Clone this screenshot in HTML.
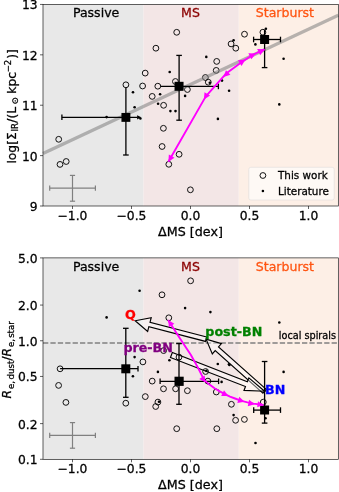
<!DOCTYPE html>
<html><head><meta charset="utf-8"><title>figure</title>
<style>html,body{margin:0;padding:0;background:#fff;width:339px;height:492px;overflow:hidden}svg{display:block;filter:blur(0.35px)}</style>
</head><body>
<svg width="339" height="492" viewBox="0 0 339 492" font-family="'DejaVu Sans', 'Liberation Sans', sans-serif">
<rect width="339" height="492" fill="#fff"/>
<rect x="43.0" y="4.45" width="100.50" height="201.55" fill="#e8e8e8"/>
<rect x="143.50" y="4.45" width="95.30" height="201.55" fill="#f3e6e6"/>
<rect x="238.80" y="4.45" width="99.50" height="201.55" fill="#fdefe6"/>
<text stroke="#000" stroke-width="0.28" x="96.1" y="16.5" font-size="12.55" text-anchor="middle" fill="#000">Passive</text>
<text stroke="#8b0000" stroke-width="0.28" x="190.5" y="16.5" font-size="12.55" text-anchor="middle" fill="#8b0000">MS</text>
<text stroke="#ff5512" stroke-width="0.28" x="284.9" y="16.5" font-size="12.55" text-anchor="middle" fill="#ff5512">Starburst</text>
<circle cx="58.7" cy="139.3" r="2.9" fill="none" stroke="#111" stroke-width="1.0"/>
<circle cx="60.0" cy="164.4" r="2.9" fill="none" stroke="#111" stroke-width="1.0"/>
<circle cx="66.2" cy="161.5" r="2.9" fill="none" stroke="#111" stroke-width="1.0"/>
<circle cx="125.9" cy="84.8" r="2.9" fill="none" stroke="#111" stroke-width="1.0"/>
<circle cx="142.6" cy="86.0" r="2.9" fill="none" stroke="#111" stroke-width="1.0"/>
<circle cx="145.2" cy="73.1" r="2.9" fill="none" stroke="#111" stroke-width="1.0"/>
<circle cx="155.9" cy="48.2" r="2.9" fill="none" stroke="#111" stroke-width="1.0"/>
<circle cx="176.7" cy="32.3" r="2.9" fill="none" stroke="#111" stroke-width="1.0"/>
<circle cx="157.8" cy="86.2" r="2.9" fill="none" stroke="#111" stroke-width="1.0"/>
<circle cx="152.2" cy="96.4" r="2.9" fill="none" stroke="#111" stroke-width="1.0"/>
<circle cx="163.6" cy="105.3" r="2.9" fill="none" stroke="#111" stroke-width="1.0"/>
<circle cx="175.4" cy="81.5" r="2.9" fill="none" stroke="#111" stroke-width="1.0"/>
<circle cx="187.4" cy="89.5" r="2.9" fill="none" stroke="#111" stroke-width="1.0"/>
<circle cx="163.4" cy="128.3" r="2.9" fill="none" stroke="#111" stroke-width="1.0"/>
<circle cx="162.1" cy="146.5" r="2.9" fill="none" stroke="#111" stroke-width="1.0"/>
<circle cx="179.1" cy="154.3" r="2.9" fill="none" stroke="#111" stroke-width="1.0"/>
<circle cx="168.8" cy="164.3" r="2.9" fill="none" stroke="#111" stroke-width="1.0"/>
<circle cx="190.4" cy="189.8" r="2.9" fill="none" stroke="#111" stroke-width="1.0"/>
<circle cx="216.7" cy="61.4" r="2.9" fill="none" stroke="#111" stroke-width="1.0"/>
<circle cx="216.2" cy="70.4" r="2.9" fill="none" stroke="#111" stroke-width="1.0"/>
<circle cx="205.4" cy="77.5" r="2.9" fill="none" stroke="#111" stroke-width="1.0"/>
<circle cx="208.3" cy="82.2" r="2.9" fill="none" stroke="#111" stroke-width="1.0"/>
<circle cx="231.1" cy="43.9" r="2.9" fill="none" stroke="#111" stroke-width="1.0"/>
<circle cx="235.8" cy="48.2" r="2.9" fill="none" stroke="#111" stroke-width="1.0"/>
<circle cx="244.5" cy="34.2" r="2.9" fill="none" stroke="#111" stroke-width="1.0"/>
<circle cx="262.9" cy="32.2" r="2.9" fill="none" stroke="#111" stroke-width="1.0"/>
<circle cx="106.6" cy="117.1" r="1.3" fill="#000"/>
<circle cx="133.0" cy="92.3" r="1.3" fill="#000"/>
<circle cx="134.6" cy="107.3" r="1.3" fill="#000"/>
<circle cx="140.4" cy="118.5" r="1.3" fill="#000"/>
<circle cx="160.1" cy="94.3" r="1.3" fill="#000"/>
<circle cx="158.1" cy="103.7" r="1.3" fill="#000"/>
<circle cx="169.7" cy="72.0" r="1.3" fill="#000"/>
<circle cx="170.4" cy="111.1" r="1.3" fill="#000"/>
<circle cx="175.5" cy="111.1" r="1.3" fill="#000"/>
<circle cx="185.1" cy="95.9" r="1.3" fill="#000"/>
<circle cx="206.3" cy="56.9" r="1.3" fill="#000"/>
<circle cx="209.8" cy="82.8" r="1.3" fill="#000"/>
<circle cx="222.0" cy="80.6" r="1.3" fill="#000"/>
<circle cx="229.1" cy="90.8" r="1.3" fill="#000"/>
<circle cx="217.9" cy="118.9" r="1.3" fill="#000"/>
<circle cx="233.6" cy="40.2" r="1.3" fill="#000"/>
<circle cx="255.4" cy="44.4" r="1.3" fill="#000"/>
<circle cx="265.9" cy="28.7" r="1.3" fill="#000"/>
<circle cx="283.6" cy="58.7" r="1.3" fill="#000"/>
<circle cx="279.3" cy="104.4" r="1.3" fill="#000"/>
<line x1="43.0" y1="153.6" x2="338.3" y2="15.2" stroke="#808080" stroke-opacity="0.56" stroke-width="3.3"/>
<line x1="61.9" y1="117.3" x2="137.5" y2="117.3" stroke="#000" stroke-width="1.3"/>
<line x1="61.9" y1="114.5" x2="61.9" y2="120.1" stroke="#000" stroke-width="1.3"/>
<polygon points="141.30,117.30 137.10,119.40 137.10,115.20" fill="#000"/>
<line x1="125.9" y1="87.5" x2="125.9" y2="155.0" stroke="#000" stroke-width="1.3"/>
<line x1="123.10000000000001" y1="155.0" x2="128.70000000000002" y2="155.0" stroke="#000" stroke-width="1.3"/>
<rect x="121.45" y="112.95" width="8.9" height="8.9" fill="#000"/>
<line x1="160.5" y1="86.4" x2="218.4" y2="86.4" stroke="#000" stroke-width="1.3"/>
<line x1="218.4" y1="83.60000000000001" x2="218.4" y2="89.2" stroke="#000" stroke-width="1.3"/>
<line x1="179.1" y1="55.4" x2="179.1" y2="120.2" stroke="#000" stroke-width="1.3"/>
<line x1="176.29999999999998" y1="55.4" x2="181.9" y2="55.4" stroke="#000" stroke-width="1.3"/>
<line x1="176.29999999999998" y1="120.2" x2="181.9" y2="120.2" stroke="#000" stroke-width="1.3"/>
<rect x="174.55" y="81.80" width="9.0" height="9.0" fill="#000"/>
<line x1="253.6" y1="39.5" x2="280.5" y2="39.5" stroke="#000" stroke-width="1.3"/>
<line x1="253.6" y1="36.7" x2="253.6" y2="42.3" stroke="#000" stroke-width="1.3"/>
<line x1="280.5" y1="36.7" x2="280.5" y2="42.3" stroke="#000" stroke-width="1.3"/>
<line x1="264.6" y1="30.0" x2="264.6" y2="67.6" stroke="#000" stroke-width="1.3"/>
<line x1="261.8" y1="67.6" x2="267.40000000000003" y2="67.6" stroke="#000" stroke-width="1.3"/>
<rect x="260.10" y="35.00" width="9.0" height="9.0" fill="#000"/>
<line x1="49.7" y1="188.1" x2="95.4" y2="188.1" stroke="#808080" stroke-width="1.2"/>
<line x1="49.7" y1="185.5" x2="49.7" y2="190.7" stroke="#808080" stroke-width="1.2"/>
<line x1="95.4" y1="185.5" x2="95.4" y2="190.7" stroke="#808080" stroke-width="1.2"/>
<line x1="72.5" y1="175.4" x2="72.5" y2="201.2" stroke="#808080" stroke-width="1.2"/>
<line x1="69.9" y1="175.4" x2="75.1" y2="175.4" stroke="#808080" stroke-width="1.2"/>
<line x1="69.9" y1="201.2" x2="75.1" y2="201.2" stroke="#808080" stroke-width="1.2"/>
<polyline points="264.6,49.3 252.5,55.0 241.5,62.2 226.5,73.2 205.8,96.4 168.4,161.8" fill="none" stroke="#ff00ff" stroke-width="1.9" stroke-linejoin="round"/>
<polygon points="265.00,49.20 260.15,55.35 257.18,49.01" fill="#ff00ff"/>
<polygon points="256.00,53.40 251.29,59.37 248.40,53.22" fill="#ff00ff"/>
<polygon points="245.50,59.50 241.51,65.97 237.93,60.19" fill="#ff00ff"/>
<polygon points="223.50,77.00 225.94,70.16 230.44,74.85" fill="#ff00ff"/>
<polygon points="204.00,99.60 204.46,92.35 210.08,95.61" fill="#ff00ff"/>
<polygon points="168.40,161.80 168.86,154.55 174.48,157.81" fill="#ff00ff"/>
<rect x="248.8" y="167.3" width="85.4" height="32.7" rx="2" fill="#fff" fill-opacity="0.6" stroke="#d8d8d8" stroke-opacity="0.6" stroke-width="0.8"/>
<circle cx="262.9" cy="175.5" r="2.9" fill="none" stroke="#111" stroke-width="1.0"/>
<circle cx="262.9" cy="191.0" r="1.3" fill="#000"/>
<text stroke="#000" stroke-width="0.28" x="278.0" y="179.3" font-size="10.4">This work</text>
<text stroke="#000" stroke-width="0.28" x="278.0" y="194.8" font-size="10.4">Literature</text>
<rect x="43.0" y="4.45" width="295.3" height="201.55" fill="none" stroke="#000" stroke-width="0.62"/>
<line x1="72.50" y1="206.0" x2="72.50" y2="209.0" stroke="#000" stroke-width="0.62"/>
<text stroke="#000" stroke-width="0.28" x="72.50" y="220.0" font-size="12.3" text-anchor="middle">−1.0</text>
<line x1="131.50" y1="206.0" x2="131.50" y2="209.0" stroke="#000" stroke-width="0.62"/>
<text stroke="#000" stroke-width="0.28" x="131.50" y="220.0" font-size="12.3" text-anchor="middle">−0.5</text>
<line x1="190.50" y1="206.0" x2="190.50" y2="209.0" stroke="#000" stroke-width="0.62"/>
<text stroke="#000" stroke-width="0.28" x="190.50" y="220.0" font-size="12.3" text-anchor="middle">0.0</text>
<line x1="249.50" y1="206.0" x2="249.50" y2="209.0" stroke="#000" stroke-width="0.62"/>
<text stroke="#000" stroke-width="0.28" x="249.50" y="220.0" font-size="12.3" text-anchor="middle">0.5</text>
<line x1="308.50" y1="206.0" x2="308.50" y2="209.0" stroke="#000" stroke-width="0.62"/>
<text stroke="#000" stroke-width="0.28" x="308.50" y="220.0" font-size="12.3" text-anchor="middle">1.0</text>
<text stroke="#000" stroke-width="0.28" x="190.50" y="235.5" font-size="12.7" text-anchor="middle">ΔMS [dex]</text>
<line x1="40.0" y1="4.45" x2="43.0" y2="4.45" stroke="#000" stroke-width="0.62"/>
<text stroke="#000" stroke-width="0.28" x="37.6" y="9.35" font-size="12.3" text-anchor="end">13</text>
<line x1="40.0" y1="54.84" x2="43.0" y2="54.84" stroke="#000" stroke-width="0.62"/>
<text stroke="#000" stroke-width="0.28" x="37.6" y="59.74" font-size="12.3" text-anchor="end">12</text>
<line x1="40.0" y1="105.23" x2="43.0" y2="105.23" stroke="#000" stroke-width="0.62"/>
<text stroke="#000" stroke-width="0.28" x="37.6" y="110.13" font-size="12.3" text-anchor="end">11</text>
<line x1="40.0" y1="155.61" x2="43.0" y2="155.61" stroke="#000" stroke-width="0.62"/>
<text stroke="#000" stroke-width="0.28" x="37.6" y="160.51" font-size="12.3" text-anchor="end">10</text>
<line x1="40.0" y1="206.00" x2="43.0" y2="206.00" stroke="#000" stroke-width="0.62"/>
<text stroke="#000" stroke-width="0.28" x="37.6" y="210.90" font-size="12.3" text-anchor="end">9</text>
<text stroke="#000" stroke-width="0.28" transform="translate(15.7,0) rotate(-90)" x="-163.61" y="0.00" font-size="12.3" >log[Σ</text>
<text stroke="#000" stroke-width="0.28" transform="translate(15.7,0) rotate(-90)" x="-131.47" y="2.30" font-size="8.6" >IR</text>
<text stroke="#000" stroke-width="0.28" transform="translate(15.7,0) rotate(-90)" x="-122.72" y="0.00" font-size="12.3" >/(L</text>
<text stroke="#000" stroke-width="0.28" transform="translate(15.7,0) rotate(-90)" x="-104.60" y="2.60" font-size="8.6" >⊙</text>
<text stroke="#000" stroke-width="0.28" transform="translate(15.7,0) rotate(-90)" x="-93.65" y="0.00" font-size="12.3" >kpc</text>
<text stroke="#000" stroke-width="0.28" transform="translate(15.7,0) rotate(-90)" x="-72.25" y="-4.60" font-size="8.6" >−</text>
<text stroke="#000" stroke-width="0.28" transform="translate(15.7,0) rotate(-90)" x="-65.17" y="-4.60" font-size="8.6" >2</text>
<text stroke="#000" stroke-width="0.28" transform="translate(15.7,0) rotate(-90)" x="-58.76" y="0.00" font-size="12.3" >)]</text>
<rect x="43.0" y="257.9" width="100.50" height="201.40" fill="#e8e8e8"/>
<rect x="143.50" y="257.9" width="95.30" height="201.40" fill="#f3e6e6"/>
<rect x="238.80" y="257.9" width="99.50" height="201.40" fill="#fdefe6"/>
<text stroke="#000" stroke-width="0.28" x="96.1" y="270.5" font-size="12.55" text-anchor="middle" fill="#000">Passive</text>
<text stroke="#8b0000" stroke-width="0.28" x="190.5" y="270.5" font-size="12.55" text-anchor="middle" fill="#8b0000">MS</text>
<text stroke="#ff5512" stroke-width="0.28" x="284.9" y="270.5" font-size="12.55" text-anchor="middle" fill="#ff5512">Starburst</text>
<line x1="43.0" y1="343.0" x2="338.3" y2="343.0" stroke="#808080" stroke-width="1.4" stroke-dasharray="5.3,2.1"/>
<text stroke="#000" stroke-width="0.28" x="336.0" y="339.2" font-size="9.7" text-anchor="end">local spirals</text>
<polygon points="266.26,389.33 218.52,346.90 221.41,343.65 206.10,339.20 212.31,353.89 215.20,350.64 262.94,393.07" fill="#fff" fill-opacity="0.4" stroke="#000" stroke-width="1.15" stroke-linejoin="miter"/>
<polygon points="206.68,336.97 150.01,322.27 151.21,317.62 135.20,320.80 147.65,331.36 148.85,326.72 205.52,341.43" fill="#fff" fill-opacity="0.4" stroke="#000" stroke-width="1.15" stroke-linejoin="miter"/>
<polygon points="170.46,357.42 245.48,386.56 243.98,390.43 264.60,391.20 248.87,377.85 247.36,381.72 172.34,352.58" fill="#fff" fill-opacity="0.4" stroke="#000" stroke-width="1.15" stroke-linejoin="miter"/>
<circle cx="60.1" cy="368.8" r="2.9" fill="none" stroke="#111" stroke-width="1.0"/>
<circle cx="58.6" cy="385.4" r="2.9" fill="none" stroke="#111" stroke-width="1.0"/>
<circle cx="65.9" cy="402.4" r="2.9" fill="none" stroke="#111" stroke-width="1.0"/>
<circle cx="125.8" cy="403.2" r="2.9" fill="none" stroke="#111" stroke-width="1.0"/>
<circle cx="145.3" cy="396.6" r="2.9" fill="none" stroke="#111" stroke-width="1.0"/>
<circle cx="157.9" cy="402.1" r="2.9" fill="none" stroke="#111" stroke-width="1.0"/>
<circle cx="155.7" cy="406.5" r="2.9" fill="none" stroke="#111" stroke-width="1.0"/>
<circle cx="163.5" cy="388.8" r="2.9" fill="none" stroke="#111" stroke-width="1.0"/>
<circle cx="175.6" cy="388.8" r="2.9" fill="none" stroke="#111" stroke-width="1.0"/>
<circle cx="187.4" cy="390.7" r="2.9" fill="none" stroke="#111" stroke-width="1.0"/>
<circle cx="152.2" cy="381.1" r="2.9" fill="none" stroke="#111" stroke-width="1.0"/>
<circle cx="176.7" cy="428.7" r="2.9" fill="none" stroke="#111" stroke-width="1.0"/>
<circle cx="142.9" cy="361.9" r="2.9" fill="none" stroke="#111" stroke-width="1.0"/>
<circle cx="163.6" cy="350.6" r="2.9" fill="none" stroke="#111" stroke-width="1.0"/>
<circle cx="168.8" cy="317.8" r="2.9" fill="none" stroke="#111" stroke-width="1.0"/>
<circle cx="162.0" cy="294.8" r="2.9" fill="none" stroke="#111" stroke-width="1.0"/>
<circle cx="190.6" cy="280.8" r="2.9" fill="none" stroke="#111" stroke-width="1.0"/>
<circle cx="179.0" cy="357.1" r="2.9" fill="none" stroke="#111" stroke-width="1.0"/>
<circle cx="205.6" cy="371.5" r="2.9" fill="none" stroke="#111" stroke-width="1.0"/>
<circle cx="207.9" cy="381.1" r="2.9" fill="none" stroke="#111" stroke-width="1.0"/>
<circle cx="216.3" cy="392.0" r="2.9" fill="none" stroke="#111" stroke-width="1.0"/>
<circle cx="231.4" cy="404.3" r="2.9" fill="none" stroke="#111" stroke-width="1.0"/>
<circle cx="235.6" cy="420.3" r="2.9" fill="none" stroke="#111" stroke-width="1.0"/>
<circle cx="244.4" cy="419.4" r="2.9" fill="none" stroke="#111" stroke-width="1.0"/>
<circle cx="216.8" cy="428.7" r="2.9" fill="none" stroke="#111" stroke-width="1.0"/>
<circle cx="263.3" cy="402.1" r="2.9" fill="none" stroke="#111" stroke-width="1.0"/>
<circle cx="106.6" cy="317.4" r="1.3" fill="#000"/>
<circle cx="139.6" cy="290.8" r="1.3" fill="#000"/>
<circle cx="185.1" cy="308.1" r="1.3" fill="#000"/>
<circle cx="210.4" cy="312.1" r="1.3" fill="#000"/>
<circle cx="279.3" cy="322.5" r="1.3" fill="#000"/>
<circle cx="134.6" cy="357.1" r="1.3" fill="#000"/>
<circle cx="132.9" cy="376.3" r="1.3" fill="#000"/>
<circle cx="157.9" cy="371.9" r="1.3" fill="#000"/>
<circle cx="169.4" cy="360.2" r="1.3" fill="#000"/>
<circle cx="159.0" cy="401.7" r="1.3" fill="#000"/>
<circle cx="217.8" cy="364.0" r="1.3" fill="#000"/>
<circle cx="229.0" cy="364.3" r="1.3" fill="#000"/>
<circle cx="221.6" cy="381.9" r="1.3" fill="#000"/>
<circle cx="206.4" cy="370.8" r="1.3" fill="#000"/>
<circle cx="283.6" cy="371.9" r="1.3" fill="#000"/>
<circle cx="229.4" cy="365.0" r="1.3" fill="#000"/>
<circle cx="233.6" cy="415.1" r="1.3" fill="#000"/>
<circle cx="255.5" cy="443.0" r="1.3" fill="#000"/>
<circle cx="265.5" cy="418.3" r="1.3" fill="#000"/>
<line x1="60.1" y1="368.7" x2="138.0" y2="368.7" stroke="#000" stroke-width="1.3"/>
<line x1="138.0" y1="365.9" x2="138.0" y2="371.5" stroke="#000" stroke-width="1.3"/>
<line x1="125.8" y1="328.3" x2="125.8" y2="397.3" stroke="#000" stroke-width="1.3"/>
<line x1="123.0" y1="328.3" x2="128.6" y2="328.3" stroke="#000" stroke-width="1.3"/>
<line x1="123.0" y1="397.3" x2="128.6" y2="397.3" stroke="#000" stroke-width="1.3"/>
<rect x="121.30" y="364.30" width="9.0" height="9.0" fill="#000"/>
<line x1="160.1" y1="381.3" x2="218.6" y2="381.3" stroke="#000" stroke-width="1.3"/>
<line x1="160.1" y1="378.5" x2="160.1" y2="384.1" stroke="#000" stroke-width="1.3"/>
<line x1="218.6" y1="378.5" x2="218.6" y2="384.1" stroke="#000" stroke-width="1.3"/>
<line x1="179.0" y1="343.6" x2="179.0" y2="404.3" stroke="#000" stroke-width="1.3"/>
<line x1="176.2" y1="343.6" x2="181.8" y2="343.6" stroke="#000" stroke-width="1.3"/>
<line x1="176.2" y1="404.3" x2="181.8" y2="404.3" stroke="#000" stroke-width="1.3"/>
<rect x="174.50" y="376.70" width="9.2" height="9.2" fill="#000"/>
<line x1="253.7" y1="410.1" x2="280.5" y2="410.1" stroke="#000" stroke-width="1.3"/>
<line x1="253.7" y1="407.3" x2="253.7" y2="412.90000000000003" stroke="#000" stroke-width="1.3"/>
<line x1="280.5" y1="407.3" x2="280.5" y2="412.90000000000003" stroke="#000" stroke-width="1.3"/>
<line x1="264.6" y1="361.5" x2="264.6" y2="423.1" stroke="#000" stroke-width="1.3"/>
<line x1="261.8" y1="361.5" x2="267.40000000000003" y2="361.5" stroke="#000" stroke-width="1.3"/>
<line x1="261.8" y1="423.1" x2="267.40000000000003" y2="423.1" stroke="#000" stroke-width="1.3"/>
<rect x="260.10" y="405.50" width="9.0" height="9.0" fill="#000"/>
<line x1="49.7" y1="435.4" x2="95.4" y2="435.4" stroke="#808080" stroke-width="1.2"/>
<line x1="49.7" y1="432.79999999999995" x2="49.7" y2="438.0" stroke="#808080" stroke-width="1.2"/>
<line x1="95.4" y1="432.79999999999995" x2="95.4" y2="438.0" stroke="#808080" stroke-width="1.2"/>
<line x1="72.5" y1="422.6" x2="72.5" y2="448.2" stroke="#808080" stroke-width="1.2"/>
<line x1="69.9" y1="422.6" x2="75.1" y2="422.6" stroke="#808080" stroke-width="1.2"/>
<line x1="69.9" y1="448.2" x2="75.1" y2="448.2" stroke="#808080" stroke-width="1.2"/>
<polyline points="168.1,320.1 180.0,338.6 190.9,355.0 197.8,367.4 204.2,380.1 209.5,384.6 214.5,388.2 219.8,391.4 224.8,394.1 230.0,396.6 235.0,398.5 241.5,400.9 247.5,402.4 253.6,403.6 263.5,405.0" fill="none" stroke="#ff00ff" stroke-width="1.9" stroke-linejoin="round"/>
<polygon points="168.10,320.10 174.38,323.76 168.94,327.32" fill="#ff00ff"/>
<polygon points="205.50,382.60 199.22,378.94 204.66,375.38" fill="#ff00ff"/>
<polygon points="228.40,396.00 221.13,396.06 223.99,390.23" fill="#ff00ff"/>
<polygon points="244.50,401.80 237.32,402.94 239.28,396.74" fill="#ff00ff"/>
<polygon points="254.80,404.30 247.78,406.18 249.08,399.82" fill="#ff00ff"/>
<polygon points="263.50,405.10 257.14,407.23 257.98,401.29" fill="#ff00ff"/>
<text stroke="#ff0000" stroke-width="0.28" x="125.0" y="319.0" font-size="12.7" font-weight="bold" fill="#ff0000">Q</text>
<text stroke="#800080" stroke-width="0.28" x="123.4" y="351.8" font-size="12.7" font-weight="bold" fill="#800080">pre-BN</text>
<text stroke="#008000" stroke-width="0.28" x="205.3" y="336.3" font-size="12.7" font-weight="bold" fill="#008000">post-BN</text>
<text stroke="#0000ff" stroke-width="0.28" x="265.0" y="394.1" font-size="12.7" font-weight="bold" fill="#0000ff">BN</text>
<rect x="43.0" y="257.9" width="295.3" height="201.40000000000003" fill="none" stroke="#000" stroke-width="0.62"/>
<line x1="72.50" y1="459.3" x2="72.50" y2="462.3" stroke="#000" stroke-width="0.62"/>
<text stroke="#000" stroke-width="0.28" x="72.50" y="473.3" font-size="12.3" text-anchor="middle">−1.0</text>
<line x1="131.50" y1="459.3" x2="131.50" y2="462.3" stroke="#000" stroke-width="0.62"/>
<text stroke="#000" stroke-width="0.28" x="131.50" y="473.3" font-size="12.3" text-anchor="middle">−0.5</text>
<line x1="190.50" y1="459.3" x2="190.50" y2="462.3" stroke="#000" stroke-width="0.62"/>
<text stroke="#000" stroke-width="0.28" x="190.50" y="473.3" font-size="12.3" text-anchor="middle">0.0</text>
<line x1="249.50" y1="459.3" x2="249.50" y2="462.3" stroke="#000" stroke-width="0.62"/>
<text stroke="#000" stroke-width="0.28" x="249.50" y="473.3" font-size="12.3" text-anchor="middle">0.5</text>
<line x1="308.50" y1="459.3" x2="308.50" y2="462.3" stroke="#000" stroke-width="0.62"/>
<text stroke="#000" stroke-width="0.28" x="308.50" y="473.3" font-size="12.3" text-anchor="middle">1.0</text>
<text stroke="#000" stroke-width="0.28" x="190.50" y="488.8" font-size="12.7" text-anchor="middle">ΔMS [dex]</text>
<line x1="40.0" y1="257.90" x2="43.0" y2="257.90" stroke="#000" stroke-width="0.62"/>
<text stroke="#000" stroke-width="0.28" x="37.6" y="262.80" font-size="12.3" text-anchor="end">5.0</text>
<line x1="40.0" y1="305.07" x2="43.0" y2="305.07" stroke="#000" stroke-width="0.62"/>
<text stroke="#000" stroke-width="0.28" x="37.6" y="309.97" font-size="12.3" text-anchor="end">2.0</text>
<line x1="40.0" y1="340.76" x2="43.0" y2="340.76" stroke="#000" stroke-width="0.62"/>
<text stroke="#000" stroke-width="0.28" x="37.6" y="345.66" font-size="12.3" text-anchor="end">1.0</text>
<line x1="40.0" y1="376.44" x2="43.0" y2="376.44" stroke="#000" stroke-width="0.62"/>
<text stroke="#000" stroke-width="0.28" x="37.6" y="381.34" font-size="12.3" text-anchor="end">0.5</text>
<line x1="40.0" y1="423.62" x2="43.0" y2="423.62" stroke="#000" stroke-width="0.62"/>
<text stroke="#000" stroke-width="0.28" x="37.6" y="428.52" font-size="12.3" text-anchor="end">0.2</text>
<line x1="40.0" y1="459.30" x2="43.0" y2="459.30" stroke="#000" stroke-width="0.62"/>
<text stroke="#000" stroke-width="0.28" x="37.6" y="464.20" font-size="12.3" text-anchor="end">0.1</text>
<text stroke="#000" stroke-width="0.28" transform="translate(11.2,0) rotate(-90)" x="-398.60" y="0.00" font-size="12.3" font-style="italic">R</text>
<text stroke="#000" stroke-width="0.28" transform="translate(11.2,0) rotate(-90)" x="-389.05" y="2.30" font-size="8.6" >e,</text>
<text stroke="#000" stroke-width="0.28" transform="translate(11.2,0) rotate(-90)" x="-379.38" y="2.30" font-size="8.6" >dust</text>
<text stroke="#000" stroke-width="0.28" transform="translate(11.2,0) rotate(-90)" x="-360.57" y="0.00" font-size="12.3" >/</text>
<text stroke="#000" stroke-width="0.28" transform="translate(11.2,0) rotate(-90)" x="-356.60" y="0.00" font-size="12.3" font-style="italic">R</text>
<text stroke="#000" stroke-width="0.28" transform="translate(11.2,0) rotate(-90)" x="-346.95" y="2.30" font-size="8.6" >e,</text>
<text stroke="#000" stroke-width="0.28" transform="translate(11.2,0) rotate(-90)" x="-337.86" y="2.30" font-size="8.6" >star</text>
</svg>
</body></html>
